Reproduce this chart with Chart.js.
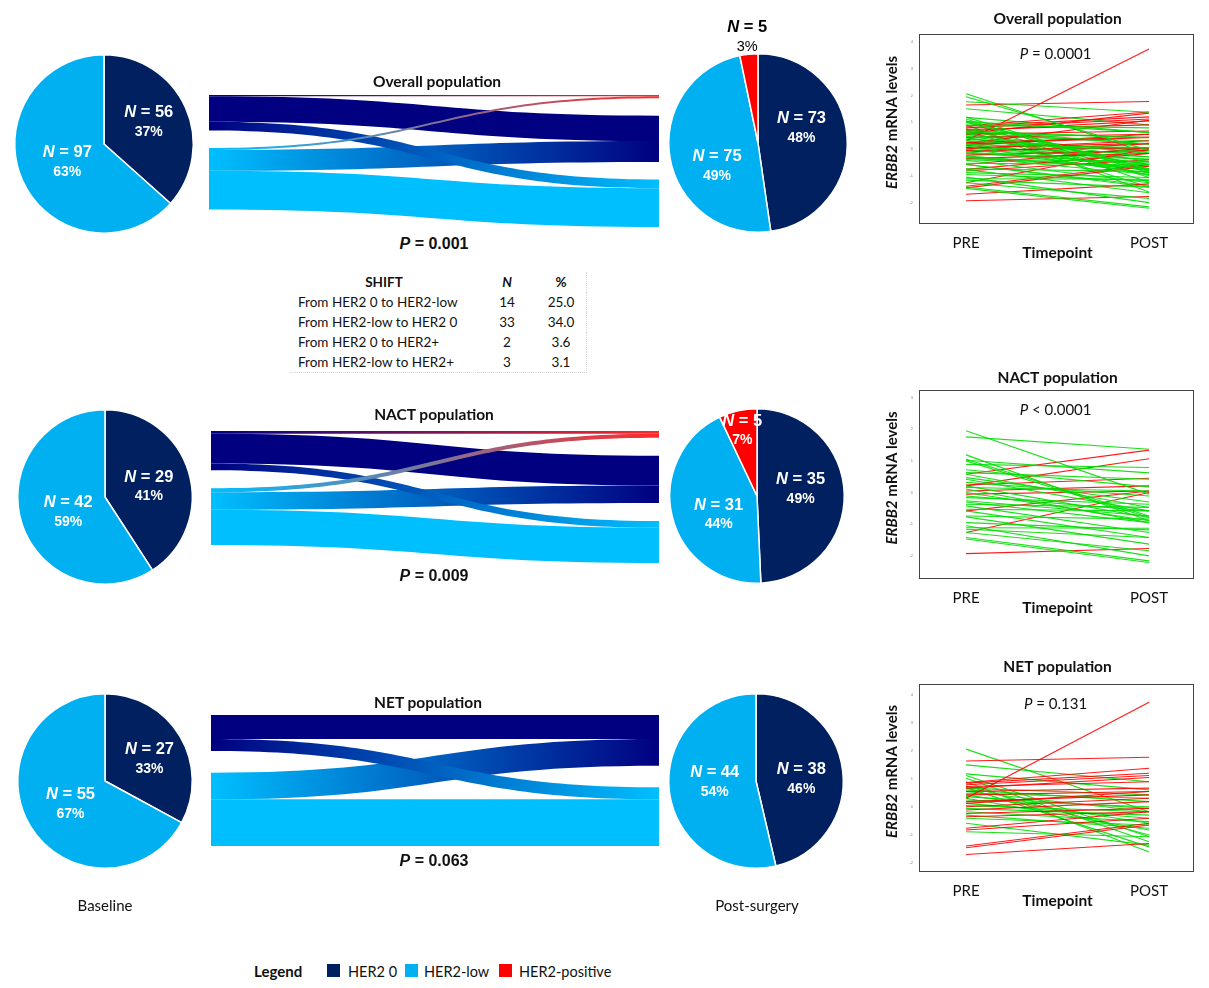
<!DOCTYPE html>
<html>
<head>
<meta charset="utf-8">
<script src="https://cdn.jsdelivr.net/npm/chart.js@4.4.0/dist/chart.umd.min.js"></script>
<style>
body { margin: 0; background: #fff; }
#wrap { position: relative; width: 1209px; height: 988px; overflow: hidden; font-family: Lato, "Open Sans", sans-serif; color: #111; }
canvas { position: absolute; }
.t { position: absolute; transform: translate(-50%, -50%); white-space: nowrap; }
.ttl { font-weight: bold; font-size: 15.5px; }
.pv { font-family: "Liberation Sans", Arial, sans-serif; font-weight: bold; font-size: 16px; }
.lab { font-size: 15px; }
#shift { position: absolute; left: 290px; top: 272px; border-collapse: collapse; font-size: 13.5px; border-right: 1px dotted #d8d8d8; border-bottom: 1px dotted #d8d8d8; }
#shift td, #shift th { height: 20px; padding: 0; line-height: 20px; }
#shift .c1 { width: 180px; text-align: left; padding-left: 8px; }
#shift .c2 { width: 58px; text-align: center; }
#shift .c3 { width: 50px; text-align: center; }
#shift th.c1 { text-align: center; padding-left: 0; }
.leg { position: absolute; top: 971px; transform: translateY(-50%); font-size: 14.5px; white-space: nowrap; }
.sq { position: absolute; top: 964px; width: 13px; height: 13px; }
</style>
</head>
<body>
<div id="wrap">
  <canvas id="pieOB"></canvas><canvas id="pieOP"></canvas>
  <canvas id="pieNB"></canvas><canvas id="pieNP"></canvas>
  <canvas id="pieEB"></canvas><canvas id="pieEP"></canvas>
  <canvas id="skO"></canvas><canvas id="skN"></canvas><canvas id="skE"></canvas>
  <canvas id="lnO"></canvas><canvas id="lnN"></canvas><canvas id="lnE"></canvas>

  <div class="t ttl" style="left:437px;top:81px">Overall population</div>
  <div class="t ttl" style="left:434px;top:414px">NACT population</div>
  <div class="t ttl" style="left:428px;top:702px">NET population</div>
  <div class="t pv" style="left:434px;top:244px"><i>P</i> = 0.001</div>
  <div class="t pv" style="left:434px;top:576px"><i>P</i> = 0.009</div>
  <div class="t pv" style="left:434px;top:861px"><i>P</i> = 0.063</div>

  <table id="shift"></table>

  <div class="t lab" style="left:105px;top:905px">Baseline</div>
  <div class="t lab" style="left:757px;top:905px">Post-surgery</div>

  <div class="leg" style="left:254px;font-weight:bold;font-size:15px">Legend</div>
  <div class="sq" style="left:327px;background:#002060"></div>
  <div class="leg" style="left:348px">HER2 0</div>
  <div class="sq" style="left:405px;background:#00B0F0"></div>
  <div class="leg" style="left:424px">HER2-low</div>
  <div class="sq" style="left:499px;background:#FF0000"></div>
  <div class="leg" style="left:519px">HER2-positive</div>
</div>
<script>
// ---- data ----
var groups = ['HER2 0', 'HER2-low', 'HER2-positive'];
// rows: baseline HER2 0 / HER2-low, cols: post-surgery HER2 0 / HER2-low / HER2-positive
var overallShift = [[40, 14, 2], [33, 61, 3]];
var nactShift = [[22, 5, 2], [13, 26, 3]];
var netShift = [[18, 9, 0], [20, 35, 0]];

var shiftRows = ['From HER2 0 to HER2-low', 'From HER2-low to HER2 0', 'From HER2 0 to HER2+', 'From HER2-low to HER2+'];
var shiftN = [14, 33, 2, 3];
var shiftPct = ['25.0', '34.0', '3.6', '3.1'];

// ERBB2 mRNA levels, one entry per patient (PRE / POST)
var nactPre = [1.95, 1.76, 1.19, 1.05, 1.00, 0.89, 0.63, 0.58, 0.42, 0.32, 0.21, 0.16, 0.11, 0.00, -0.11, -0.16, -0.26, -0.37, -0.42, -0.53, -0.58, -0.77, -1.05, -1.11, -1.16, -1.26, -1.42, -1.47, -0.74, 0.72, 0.47, -0.30, 1.02, -0.95, 0.58, 0.21, 0.24, 0.05, -0.05, -0.58, -1.26, -1.93];
var nactPost = [-0.05, 1.37, -0.89, -0.74, -0.79, 0.79, 0.42, -0.47, -0.58, -0.11, -0.79, 0.05, -0.95, -0.89, -0.58, -0.37, -0.74, -0.47, -1.26, -0.58, -1.42, -1.63, -2.00, -1.13, -1.42, -1.84, -2.16, -2.21, -0.84, 0.18, -0.30, -0.95, 0.62, -1.18, 1.34, 1.07, 0.45, 0.21, 0.05, 0.05, 0.00, -1.77];
var netPre = [0.31, 1.64, 0.87, 0.85, 0.79, 0.67, 0.55, 0.43, 0.19, 0.01, -0.11, -0.23, -0.35, -0.76, -0.82, -1.39, -1.45, -1.69, 0.73, 0.13, 2.06, 1.50, 1.18, 1.12, 1.02, 0.90, 0.75, 0.69, 0.61, 0.55, 0.43, 0.37, 0.31, 0.25, 0.13, 0.05, -0.05, -0.17, -0.29, -0.40, -0.58, -0.88, 0.49, 0.67];
var netPost = [3.73, 1.77, 1.38, 1.20, 1.12, 1.05, 0.67, 0.55, 0.43, 0.31, 0.19, -0.05, -0.17, -0.17, -0.40, -0.58, -0.64, -1.30, 0.90, 0.55, -0.17, 0.90, 0.61, -1.06, -1.24, -1.60, -1.00, -1.42, 0.19, -0.17, -0.58, -0.05, -0.82, 0.01, -0.40, -0.17, -0.29, -0.52, -0.76, -0.64, -1.36, -1.06, 0.31, 0.43];
var overallPre = nactPre.concat(netPre);
var overallPost = nactPost.concat(netPost);

var timepoints = ['PRE', 'POST'];
var ticksWide = [-2, -1, 0, 1, 2, 3, 4];
var ticksNact = [-2, -1, 0, 1, 2, 3];

// ---- helpers ----
var PIE_COLORS = ['#002060', '#00B0F0', '#FF0000'];
var FLOW_COLORS = ['#000080', '#00BFFF', '#FF2A2A'];
var ARIAL = '"Liberation Sans", Arial, sans-serif';

function drawMixed(ctx, parts, x, y, color) {
  var w = 0;
  parts.forEach(function(p) { ctx.font = p[1]; p.w = ctx.measureText(p[0]).width; w += p.w; });
  var sx = x - w / 2;
  ctx.fillStyle = color; ctx.textAlign = 'left'; ctx.textBaseline = 'middle';
  parts.forEach(function(p) { ctx.font = p[1]; ctx.fillText(p[0], sx, y); sx += p.w; });
}

function place(cv, left, top, w, h) {
  cv.width = w; cv.height = h;
  cv.style.left = left + 'px'; cv.style.top = top + 'px';
}

var pieLabels = {
  id: 'pieLabels',
  afterDatasetsDraw: function(chart, args, o) {
    var ctx = chart.ctx;
    var vals = chart.data.datasets[0].data;
    var total = vals.reduce(function(a, b) { return a + b; }, 0);
    var nudge = o.nudge || [];
    ctx.save();
    chart.getDatasetMeta(0).data.forEach(function(arc, i) {
      var v = vals[i];
      if (!v) return;
      var p = arc.getProps(['x', 'y', 'startAngle', 'endAngle', 'outerRadius'], true);
      var mid = (p.startAngle + p.endAngle) / 2;
      var pct = Math.round(v / total * 100);
      var rr = p.outerRadius * 0.5, col = '#fff', pf = 'bold 14px ' + ARIAL;
      if (pct < 5) { rr = p.outerRadius + 17; col = '#000'; pf = '14.5px ' + ARIAL; }
      else if (pct < 10) { rr = p.outerRadius * 0.77; }
      var nd = nudge[i] || [0, 0];
      var lx = p.x + Math.cos(mid) * rr + nd[0], ly = p.y + Math.sin(mid) * rr + nd[1];
      drawMixed(ctx, [['N', 'italic bold 16.5px ' + ARIAL], [' = ' + v, 'bold 16.5px ' + ARIAL]], lx, ly - 9.5, col);
      ctx.font = pf; ctx.fillStyle = col; ctx.textAlign = 'center'; ctx.textBaseline = 'middle';
      ctx.fillText(pct + '%', lx, ly + 10);
    });
    ctx.restore();
  }
};

function makePie(id, counts, cx, cy, r, nudge) {
  var cv = document.getElementById(id);
  place(cv, cx - 130, cy - 130, 260, 260);
  new Chart(cv, {
    type: 'pie',
    data: { labels: groups.slice(0, counts.length),
      datasets: [{ data: counts, backgroundColor: PIE_COLORS.slice(0, counts.length), borderColor: '#fff', borderWidth: 1.5 }] },
    options: { responsive: false, animation: false, layout: { padding: 130 - r },
      plugins: { legend: { display: false }, tooltip: { enabled: false }, pieLabels: { nudge: nudge } } },
    plugins: [pieLabels]
  });
}

function rowSums(m) { return m.map(function(r) { return r[0] + r[1] + r[2]; }); }
function colSums(m) { return [0, 1, 2].map(function(j) { return m[0][j] + m[1][j]; }); }

function makeSankey(id, shift, gap, left, top, w, h) {
  var cv = document.getElementById(id);
  place(cv, left, top, w, h);
  var src = rowSums(shift), dst = colSums(shift);
  var rightOrder = [2, 0, 1].filter(function(j) { return dst[j] > 0; });
  var leftTop = [0, src[0] + gap];
  var rightTop = {}, cur = 0;
  rightOrder.forEach(function(j) { rightTop[j] = cur; cur += dst[j] + gap; });
  var ymax = Math.max(src[0] + src[1] + gap, cur - gap);
  // offsets of each flow inside its nodes
  var lOff = {}, rOff = {};
  [0, 1].forEach(function(i) {
    var c = leftTop[i];
    rightOrder.forEach(function(j) { lOff[i + '_' + j] = c; c += shift[i][j]; });
  });
  rightOrder.forEach(function(j) {
    var c = rightTop[j];
    [0, 1].forEach(function(i) { rOff[i + '_' + j] = c; c += shift[i][j]; });
  });
  var drawOrder = [[0, 0], [1, 1], [1, 0], [0, 1], [0, 2], [1, 2]];
  var flows = {
    id: 'flows',
    afterDatasetsDraw: function(chart) {
      var ctx = chart.ctx, xs = chart.scales.x, ys = chart.scales.y;
      var x0 = xs.getPixelForValue(0), x1 = xs.getPixelForValue(1), xm = (x0 + x1) / 2;
      ctx.save();
      drawOrder.forEach(function(f) {
        var i = f[0], j = f[1], v = shift[i][j];
        if (!v) return;
        var k = i + '_' + j;
        var a0 = ys.getPixelForValue(lOff[k]), a1 = ys.getPixelForValue(lOff[k] + v);
        var b0 = ys.getPixelForValue(rOff[k]), b1 = ys.getPixelForValue(rOff[k] + v);
        ctx.beginPath();
        ctx.moveTo(x0, a0);
        ctx.bezierCurveTo(xm, a0, xm, b0, x1, b0);
        ctx.lineTo(x1, b1);
        ctx.bezierCurveTo(xm, b1, xm, a1, x0, a1);
        ctx.closePath();
        var g = ctx.createLinearGradient(x0, 0, x1, 0);
        g.addColorStop(0, FLOW_COLORS[i]);
        g.addColorStop(1, FLOW_COLORS[j]);
        ctx.fillStyle = g;
        ctx.fill();
      });
      ctx.restore();
    }
  };
  new Chart(cv, {
    type: 'scatter',
    data: { datasets: [{ data: [] }] },
    options: { responsive: false, animation: false, layout: { padding: 0 },
      scales: { x: { type: 'linear', min: 0, max: 1, display: false },
                y: { type: 'linear', min: 0, max: ymax, reverse: true, display: false } },
      plugins: { legend: { display: false }, tooltip: { enabled: false } } },
    plugins: [flows]
  });
}

var spagText = {
  id: 'spagText',
  afterDraw: function(chart, args, o) {
    var ctx = chart.ctx, a = chart.chartArea, xs = chart.scales.x;
    var mx = (xs.getPixelForValue(1) + xs.getPixelForValue(2)) / 2;
    ctx.save();
    ctx.strokeStyle = '#444'; ctx.lineWidth = 1;
    ctx.strokeRect(Math.round(a.left) + 0.5, Math.round(a.top) + 0.5, Math.round(a.right - a.left), Math.round(a.bottom - a.top));
    ctx.fillStyle = '#111'; ctx.textAlign = 'center'; ctx.textBaseline = 'middle';
    ctx.font = 'bold 15.5px Lato';
    ctx.fillText(o.title, mx, a.top - o.titleGap);
    ctx.fillText('Timepoint', mx, a.bottom + 30);
    drawMixed(ctx, [['P', 'italic 15px Lato'], [o.p, '15px Lato']], mx - 2, a.top + 20, '#111');
    ctx.translate(a.left - 27, (a.top + a.bottom) / 2 - 6);
    ctx.rotate(-Math.PI / 2);
    drawMixed(ctx, [['ERBB2', 'italic bold 15px Lato'], [' mRNA levels', 'bold 15px Lato']], 0, 0, '#111');
    ctx.restore();
  }
};

function makeSpaghetti(id, pre, post, cfg) {
  var cv = document.getElementById(id);
  place(cv, 870, cfg.top, 339, 265);
  var ds = pre.map(function(v, k) {
    var up = post[k] > v;
    return { data: [{ x: 1, y: v }, { x: 2, y: post[k] }],
      borderColor: up ? 'rgba(255,0,0,0.9)' : 'rgba(0,220,0,0.9)',
      borderWidth: 1.1, pointRadius: 0, fill: false, tension: 0 };
  });
  new Chart(cv, {
    type: 'line',
    data: { datasets: ds },
    options: {
      responsive: false, animation: false,
      layout: { padding: { top: cfg.padTop, left: 35, right: 16, bottom: 0 } },
      plugins: { legend: { display: false }, tooltip: { enabled: false },
        spagText: { title: cfg.title, p: cfg.p, titleGap: cfg.titleGap } },
      scales: {
        x: { type: 'linear', min: 0.743, max: 2.24,
          grid: { display: false, drawTicks: false }, border: { display: false },
          afterBuildTicks: function(s) { s.ticks = [{ value: 1 }, { value: 2 }]; },
          afterFit: function(s) { s.height = cfg.xh; },
          ticks: { callback: function(v) { return timepoints[v - 1]; }, font: { family: 'Lato', size: 15 },
            color: '#111', padding: 11, maxRotation: 0, autoSkip: false } },
        y: { type: 'linear', min: cfg.ymin, max: cfg.ymax,
          grid: { display: false, drawTicks: false }, border: { display: false },
          afterBuildTicks: function(s) { s.ticks = cfg.ticks.map(function(v) { return { value: v }; }); },
          afterFit: function(s) { s.width = 14; },
          ticks: { font: { size: 4 }, color: '#888', padding: 6 } }
      }
    },
    plugins: [spagText]
  });
}

// ---- table ----
var tb = '<tr><th class="c1">SHIFT</th><th class="c2"><i>N</i></th><th class="c3">%</th></tr>';
shiftRows.forEach(function(r, i) {
  tb += '<tr><td class="c1">' + r + '</td><td class="c2">' + shiftN[i] + '</td><td class="c3">' + shiftPct[i] + '</td></tr>';
});
document.getElementById('shift').innerHTML = tb;

// ---- charts ----
makePie('pieOB', rowSums(overallShift), 104, 144, 90, [[4, -4], [4, 0]]);
makePie('pieOP', colSums(overallShift), 758, 143, 90, [[-1, -12], [3, 15]]);
makePie('pieNB', rowSums(nactShift), 105, 497, 88, [[2, 2], [5, 3]]);
makePie('pieNP', colSums(nactShift), 757, 496, 88, [[0, -6], [4, 8]]);
makePie('pieEB', rowSums(netShift), 105, 781, 88, [[7, 0], [3, 1]]);
makePie('pieEP', colSums(netShift), 756, 781, 88, [[2, 3], [2, -4]]);

makeSankey('skO', overallShift, 27.5, 209, 95, 450, 132);
makeSankey('skN', nactShift, 13.3, 211, 431, 448, 132);
makeSankey('skE', netShift, 16.3, 211, 715, 448, 131);

makeSpaghetti('lnO', overallPre, overallPost, { top: 0, padTop: 34, xh: 42, ymin: -2.76, ymax: 4.29, ticks: ticksWide,
  title: 'Overall population', p: ' = 0.0001', titleGap: 15 });
makeSpaghetti('lnN', nactPre, nactPost, { top: 355, padTop: 35, xh: 42, ymin: -2.7, ymax: 3.24, ticks: ticksNact,
  title: 'NACT population', p: ' < 0.0001', titleGap: 12 });
makeSpaghetti('lnE', netPre, netPost, { top: 645, padTop: 39, xh: 39, ymin: -2.28, ymax: 4.38, ticks: ticksWide,
  title: 'NET population', p: ' = 0.131', titleGap: 17 });
</script>
</body>
</html>
